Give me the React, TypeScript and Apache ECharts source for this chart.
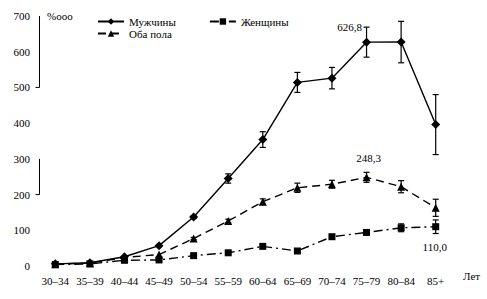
import React, { useEffect, useRef } from "react";
import * as echarts from "echarts";

const categories = ["30–34", "35–39", "40–44", "45–49", "50–54", "55–59", "60–64", "65–69", "70–74", "75–79", "80–84", "85+"];
const men = [6, 9, 26, 57, 137, 245, 354, 514, 526, 626.8, 627, 396];
const both = [5, 8, 24, 32, 77, 126, 180, 219, 229, 248.3, 222, 163];
const women = [4, 6, 16, 17, 29, 37, 55, 42, 82, 94, 107, 110];
const menErr = [0, 0, 0, 0, 4, 13, 22, 28, 30, 42, 58, 84];
const bothErr = [0, 0, 0, 0, 3, 5, 8, 13, 11, 14, 17, 24];
const womenErr = [0, 0, 0, 0, 2, 3, 4, 4, 5, 6, 11, 19];
const yTicks = [0, 100, 200, 300, 400, 500, 600, 700];
const axisSegments = [[700, 500], [300, 200]];

const FONT = "'Liberation Serif', 'Times New Roman', serif";

function errorSeries(vals: number[], errs: number[]) {
  return {
    type: "custom",
    z: 5,
    silent: true,
    data: vals.map((v, i) => [i, v - errs[i], v + errs[i]]),
    renderItem: (_params: any, api: any) => {
      const lo = api.coord([api.value(0), api.value(1)]);
      const hi = api.coord([api.value(0), api.value(2)]);
      if (Math.abs(lo[1] - hi[1]) < 1) return { type: "group", children: [] };
      const st = { stroke: "#000", lineWidth: 1.2 };
      const cw = 3;
      return {
        type: "group",
        children: [
          { type: "line", shape: { x1: lo[0], y1: lo[1], x2: hi[0], y2: hi[1] }, style: st },
          { type: "line", shape: { x1: lo[0] - cw, y1: lo[1], x2: lo[0] + cw, y2: lo[1] }, style: st },
          { type: "line", shape: { x1: hi[0] - cw, y1: hi[1], x2: hi[0] + cw, y2: hi[1] }, style: st },
        ],
      };
    },
  };
}

export default function App() {
  const ref = useRef<HTMLDivElement>(null);
  useEffect(() => {
    if (!ref.current) return;
    document.body.style.margin = "0";
    const chart = echarts.init(ref.current, null, { renderer: "svg" });
    const textStyle = { fontFamily: FONT, fontSize: 11, color: "#000" };
    chart.setOption({
      animation: false,
      textStyle: { fontFamily: FONT },
      grid: { left: 38, right: 34, top: 16, bottom: 33 },
      legend: [
        {
          data: ["Мужчины", "Женщины"],
          left: 97, top: 16, padding: 0,
          itemWidth: 26, itemHeight: 8, itemGap: 33,
          textStyle,
        },
        {
          data: ["Оба пола"],
          left: 97, top: 28, padding: 0,
          itemWidth: 26, itemHeight: 8,
          textStyle,
        },
      ],
      xAxis: {
        type: "category",
        data: categories,
        axisLine: { show: false },
        axisTick: { show: false },
        axisLabel: { ...textStyle, margin: 9, interval: 0, hideOverlap: false },
        name: "Лет",
        nameLocation: "end",
        nameGap: 10,
        nameTextStyle: { ...textStyle, verticalAlign: "top", padding: [4, 0, 0, 0] },
      },
      yAxis: {
        type: "value",
        min: 0,
        max: 700,
        interval: 100,
        axisLine: { show: false },
        axisTick: { show: false },
        splitLine: { show: false },
        axisLabel: { ...textStyle, margin: 8 },
      },
      series: [
        {
          name: "Мужчины",
          type: "line",
          data: men,
          symbol: "diamond",
          symbolSize: 9,
          itemStyle: { color: "#000" },
          lineStyle: { color: "#000", width: 1.4, type: "solid" },
          label: {
            show: true,
            position: "top",
            offset: [-17, 0],
            ...textStyle,
            formatter: (p: any) => (p.dataIndex === 9 ? "626,8" : ""),
          },
          z: 3,
        },
        {
          name: "Женщины",
          type: "line",
          data: women,
          symbol: "rect",
          symbolSize: 7,
          itemStyle: { color: "#000" },
          lineStyle: { color: "#000", width: 1.4, type: [9, 4, 2, 4] },
          label: {
            show: true,
            position: "bottom",
            offset: [-1, 6],
            ...textStyle,
            formatter: (p: any) => (p.dataIndex === 11 ? "110,0" : ""),
          },
          z: 3,
        },
        {
          name: "Оба пола",
          type: "line",
          data: both,
          symbol: "triangle",
          symbolSize: 8,
          itemStyle: { color: "#000" },
          lineStyle: { color: "#000", width: 1.4, type: [8, 5] },
          label: {
            show: true,
            position: "top",
            offset: [2, -5],
            ...textStyle,
            formatter: (p: any) => (p.dataIndex === 9 ? "248,3" : ""),
          },
          z: 3,
        },
        errorSeries(men, menErr),
        errorSeries(women, womenErr),
        errorSeries(both, bothErr),
      ],
    });
    const ax = 38 + 1.5;
    const graphics: any[] = [];
    axisSegments.forEach(([a, b]) => {
      const ya = chart.convertToPixel({ yAxisIndex: 0 } as any, a) as number;
      const yb = chart.convertToPixel({ yAxisIndex: 0 } as any, b) as number;
      graphics.push({ type: "line", shape: { x1: ax, y1: ya, x2: ax, y2: yb }, style: { stroke: "#000", lineWidth: 1 } });
      graphics.push({ type: "line", shape: { x1: ax - 4, y1: yb, x2: ax, y2: yb }, style: { stroke: "#000", lineWidth: 1 } });
    });
    const yTop = chart.convertToPixel({ yAxisIndex: 0 } as any, yTicks[yTicks.length - 1]) as number;
    graphics.push({
      type: "text",
      left: 47,
      top: yTop - 6,
      style: { text: "%ooo", font: `11px ${FONT}`, fill: "#000" },
    });
    chart.setOption({ graphic: graphics });
    return () => chart.dispose();
  }, []);
  return <div ref={ref} style={{ width: 487, height: 299 }} />;
}
